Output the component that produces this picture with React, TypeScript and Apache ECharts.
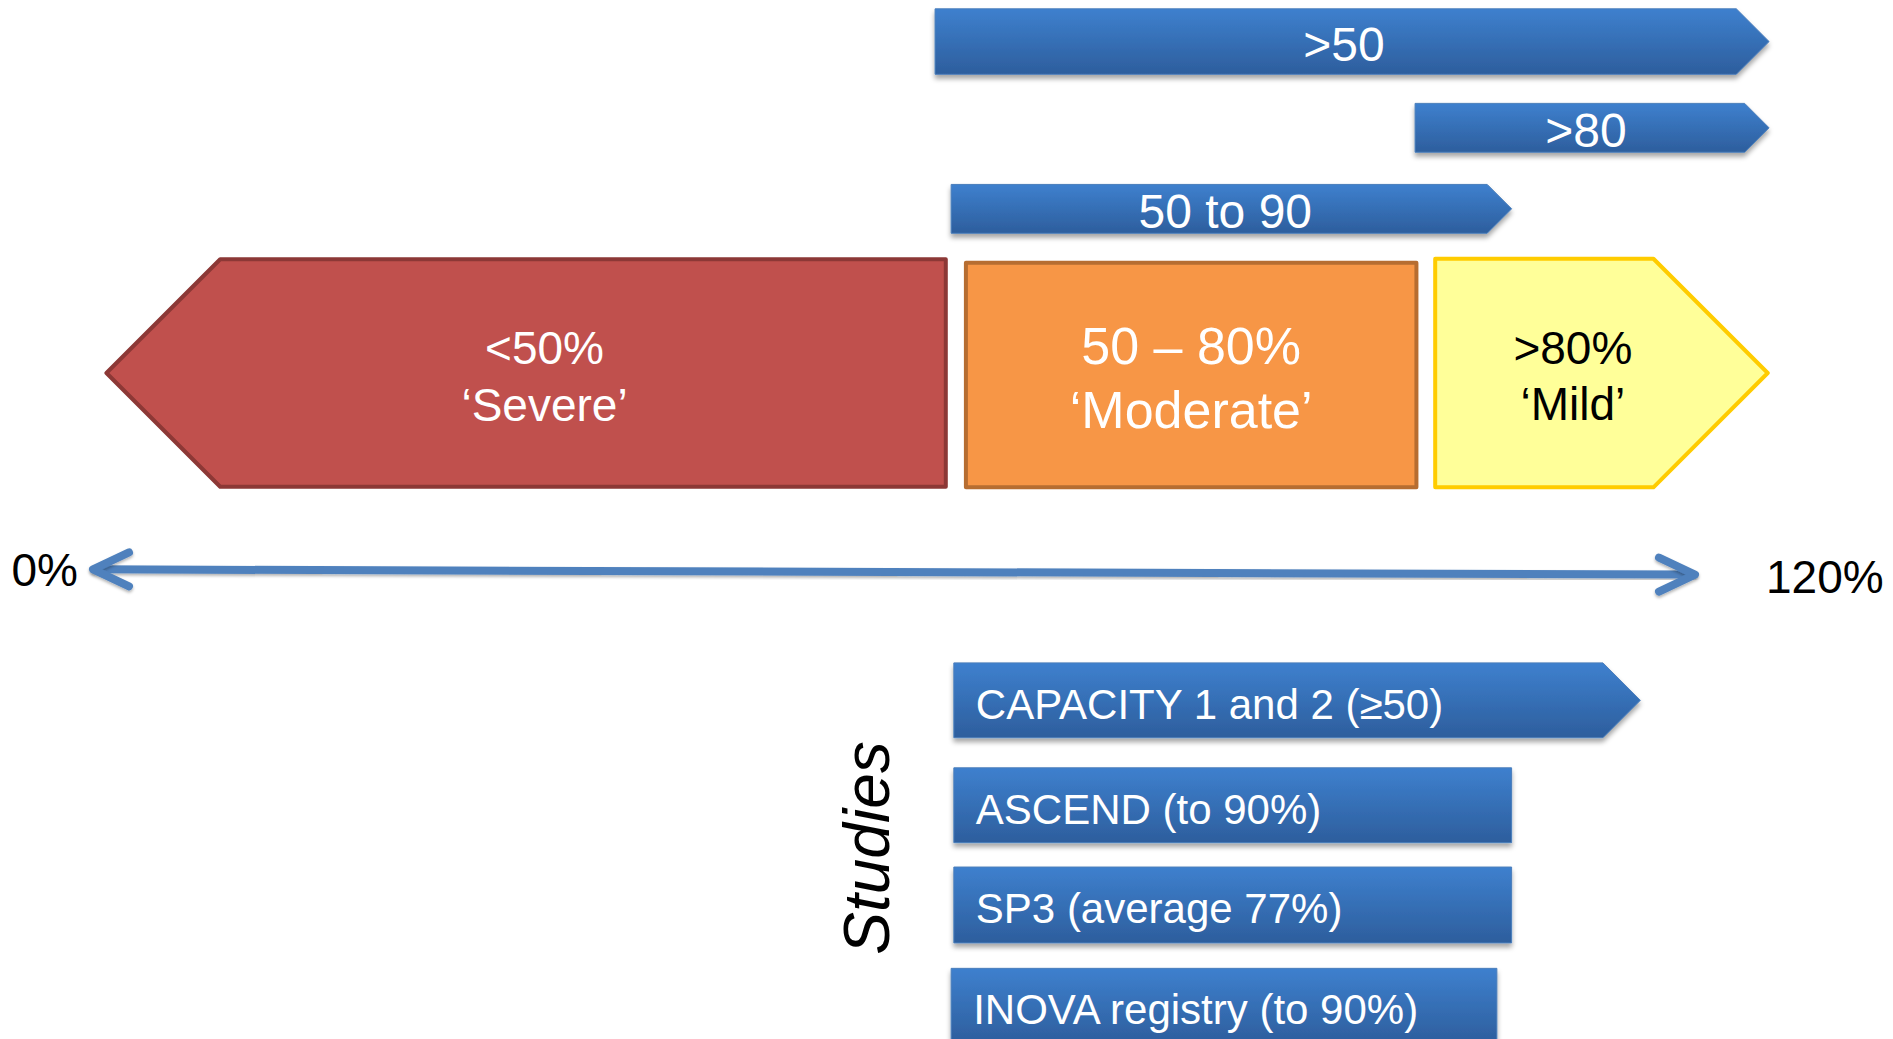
import React, { useEffect, useRef } from "react";
import * as echarts from "echarts";

// ---- data (x in % along the 0–120% axis, y in rows 0–100 from the top) ----
const rangeLabels = [">50", ">80", "50 to 90"];
const rangeStart = [63.1, 98.9, 64.3];
const rangeEnd = [125.3, 125.3, 106.1];
const rangeRow = [4.0, 12.3, 20.1];
const rangeHeight = [6.3, 4.7, 4.7];

const severityLabels = ["<50%\n\u2018Severe\u2019", "50 \u2013 80%\n\u2018Moderate\u2019", ">80%\n\u2018Mild\u2019"];
const severityStart = [1.3, 65.4, 100.4];
const severityEnd = [63.9, 99.0, 125.2];
const severityShape = ["left", "rect", "right"];
const severityRow = [35.9, 36.1, 35.9];
const severityHeight = [21.9, 21.6, 22.0];

const axisTicks = [0, 120];
const axisTickLabels = ["0%", "120%"];
const axisRow = [54.8, 55.3];

const studyLabels = [
  "CAPACITY 1 and 2 (\u226550)",
  "ASCEND (to 90%)",
  "SP3 (average 77%)",
  "INOVA registry (to 90%)",
];
const studyStart = [64.5, 64.5, 64.5, 64.3];
const studyEnd = [115.7, 106.1, 106.1, 105.0];
const studyShape = ["right", "rect", "rect", "rect"];
const studyRow = [67.4, 77.5, 87.1, 96.8];
const studyHeight = [7.2, 7.2, 7.3, 7.2];
const studiesTitle = "Studies";

// ---- styles ----
const FONT = '"Liberation Sans", Arial, sans-serif';
const blueFill = () =>
  new echarts.graphic.LinearGradient(0, 0, 0, 1, [
    { offset: 0, color: "#3e80ce" },
    { offset: 1, color: "#2d5e9d" },
  ]);
const severityStyles = [
  { fill: "#c0504d", stroke: "#8c3836", text: "#ffffff", size: 46, lh: 57, dx: -10 },
  { fill: "#f79646", stroke: "#b66d31", text: "#ffffff", size: 52, lh: 64, dx: 0 },
  { fill: "#ffff99", stroke: "#ffcc00", text: "#000000", size: 46, lh: 56, dx: 0 },
];

function shapePoints(x0: number, x1: number, yc: number, h: number, shape: string) {
  const t = yc - h / 2;
  const b = yc + h / 2;
  const tip = h / 2;
  if (shape === "right") {
    return [[x0, t], [x1 - tip, t], [x1, yc], [x1 - tip, b], [x0, b]];
  }
  if (shape === "left") {
    return [[x0, yc], [x0 + tip, t], [x1, t], [x1, b], [x0 + tip, b]];
  }
  return [[x0, t], [x1, t], [x1, b], [x0, b]];
}

export default function App() {
  const ref = useRef<HTMLDivElement>(null);
  useEffect(() => {
    if (!ref.current) return;
    const chart = echarts.init(ref.current, undefined, { renderer: "svg" });

    const option: any = {
      animation: false,
      backgroundColor: "#ffffff",
      grid: { left: 89, right: 195, top: 0, bottom: 0 },
      xAxis: { type: "value", min: 0, max: 120, show: false },
      yAxis: { type: "value", min: 0, max: 100, inverse: true, show: false },
      graphic: [
        {
          type: "text",
          x: 867,
          y: 848,
          rotation: Math.PI / 2,
          style: {
            text: studiesTitle,
            font: `italic 64px ${FONT}`,
            fill: "#000000",
            align: "center",
            verticalAlign: "middle",
          },
        },
      ],
      series: [
        // top range arrows
        {
          type: "custom",
          data: rangeLabels.map((_, i) => [rangeStart[i], rangeEnd[i], rangeRow[i], rangeHeight[i]]),
          renderItem: (params: any, api: any) => {
            const i = params.dataIndex;
            const p0 = api.coord([api.value(0), api.value(2)]);
            const p1 = api.coord([api.value(1), api.value(2)]);
            const h = api.size([0, api.value(3)])[1];
            const tip = h / 2;
            return {
              type: "group",
              children: [
                {
                  type: "polygon",
                  shape: { points: shapePoints(p0[0], p1[0], p0[1], h, "right") },
                  style: {
                    fill: blueFill(),
                    stroke: "#4a7ebb",
                    lineWidth: 1,
                    shadowColor: "rgba(0,0,0,0.35)",
                    shadowBlur: 5,
                    shadowOffsetY: 4,
                  },
                },
                {
                  type: "text",
                  style: {
                    text: rangeLabels[i],
                    x: (p0[0] + p1[0]) / 2 - tip / 4,
                    y: p0[1] + 3,
                    fill: "#ffffff",
                    font: `48px ${FONT}`,
                    align: "center",
                    verticalAlign: "middle",
                  },
                },
              ],
            };
          },
        },
        // severity blocks
        {
          type: "custom",
          data: severityLabels.map((_, i) => [severityStart[i], severityEnd[i], severityRow[i], severityHeight[i]]),
          renderItem: (params: any, api: any) => {
            const i = params.dataIndex;
            const st = severityStyles[i];
            const p0 = api.coord([api.value(0), api.value(2)]);
            const p1 = api.coord([api.value(1), api.value(2)]);
            const h = api.size([0, api.value(3)])[1];
            const shape = severityShape[i];
            const tip = h / 2;
            let cx = (p0[0] + p1[0]) / 2 + st.dx;
            if (shape === "left") cx += tip / 4;
            if (shape === "right") cx -= tip / 4;
            return {
              type: "group",
              children: [
                {
                  type: "polygon",
                  shape: { points: shapePoints(p0[0], p1[0], p0[1], h, shape) },
                  style: { fill: st.fill, stroke: st.stroke, lineWidth: 4, lineJoin: "round" },
                },
                {
                  type: "text",
                  style: {
                    text: severityLabels[i],
                    x: cx,
                    y: p0[1] + 3,
                    fill: st.text,
                    font: `${st.size}px ${FONT}`,
                    lineHeight: st.lh,
                    align: "center",
                    verticalAlign: "middle",
                  },
                },
              ],
            };
          },
        },
        // 0–120% axis arrow
        {
          type: "custom",
          data: [[axisTicks[0], axisRow[0], axisTicks[1], axisRow[1]]],
          renderItem: (params: any, api: any) => {
            const a0 = api.coord([api.value(0), api.value(1)]);
            const b0 = api.coord([api.value(2), api.value(3)]);
            const a = [a0[0] + 4, a0[1]];
            const b = [b0[0] - 3, b0[1]];
            const lineStyle = {
              stroke: "#4f81bd",
              lineWidth: 8,
              lineCap: "round",
              lineJoin: "round",
              fill: null,
              shadowColor: "rgba(0,0,0,0.3)",
              shadowBlur: 3,
              shadowOffsetY: 2,
            };
            const back = 36;
            const spread = 17;
            return {
              type: "group",
              children: [
                { type: "polyline", shape: { points: [[a[0] + 2, a[1]], [b[0] - 2, b[1]]] }, style: lineStyle },
                {
                  type: "polyline",
                  shape: { points: [[a[0] + back, a[1] - spread], [a[0], a[1]], [a[0] + back, a[1] + spread]] },
                  style: lineStyle,
                },
                {
                  type: "polyline",
                  shape: { points: [[b[0] - back, b[1] - spread], [b[0], b[1]], [b[0] - back, b[1] + spread]] },
                  style: lineStyle,
                },
                {
                  type: "text",
                  style: {
                    text: axisTickLabels[0],
                    x: a0[0] - 11,
                    y: a0[1] + 1,
                    fill: "#000000",
                    font: `46px ${FONT}`,
                    align: "right",
                    verticalAlign: "middle",
                  },
                },
                {
                  type: "text",
                  style: {
                    text: axisTickLabels[1],
                    x: b0[0] + 68,
                    y: b0[1] + 2,
                    fill: "#000000",
                    font: `46px ${FONT}`,
                    align: "left",
                    verticalAlign: "middle",
                  },
                },
              ],
            };
          },
        },
        // studies
        {
          type: "custom",
          data: studyLabels.map((_, i) => [studyStart[i], studyEnd[i], studyRow[i], studyHeight[i]]),
          renderItem: (params: any, api: any) => {
            const i = params.dataIndex;
            const p0 = api.coord([api.value(0), api.value(2)]);
            const p1 = api.coord([api.value(1), api.value(2)]);
            const h = api.size([0, api.value(3)])[1];
            return {
              type: "group",
              children: [
                {
                  type: "polygon",
                  shape: { points: shapePoints(p0[0], p1[0], p0[1], h, studyShape[i]) },
                  style: {
                    fill: blueFill(),
                    stroke: "#4a7ebb",
                    lineWidth: 1,
                    shadowColor: "rgba(0,0,0,0.35)",
                    shadowBlur: 5,
                    shadowOffsetY: 4,
                  },
                },
                {
                  type: "text",
                  style: {
                    text: studyLabels[i],
                    x: p0[0] + 22,
                    y: p0[1] + 4,
                    fill: "#ffffff",
                    font: `42px ${FONT}`,
                    align: "left",
                    verticalAlign: "middle",
                  },
                },
              ],
            };
          },
        },
      ],
    };
    chart.setOption(option);
    return () => chart.dispose();
  }, []);

  return (
    <div
      ref={ref}
      style={{ position: "absolute", left: 0, top: 0, width: 1893, height: 1039, background: "#fff" }}
    />
  );
}
